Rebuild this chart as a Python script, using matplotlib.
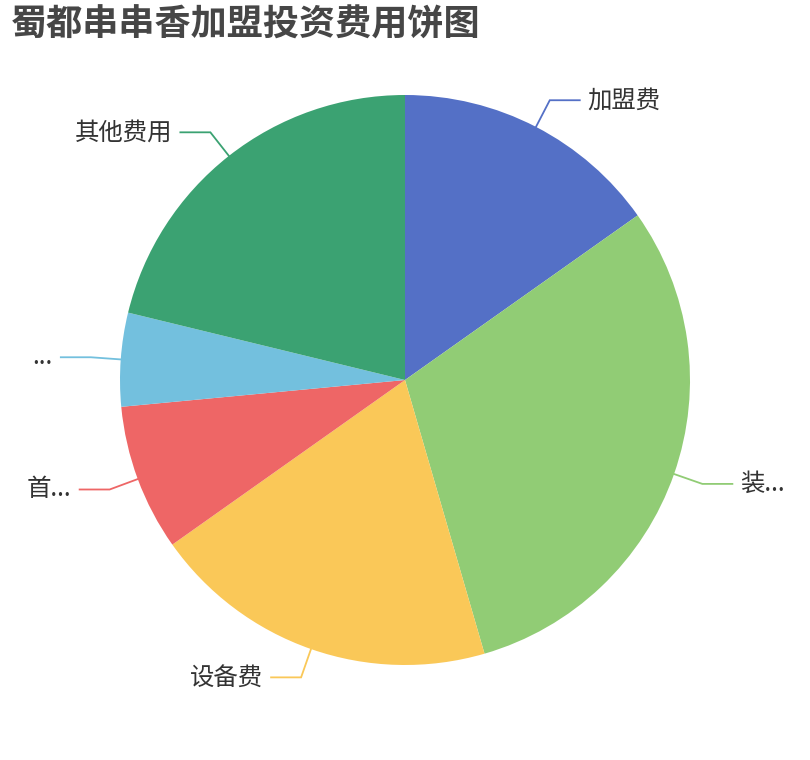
import numpy as np
import matplotlib
matplotlib.use("Agg")
import matplotlib.pyplot as plt

plt.rcParams['font.family'] = ['Noto Sans CJK SC', 'DejaVu Sans']

title = "蜀都串串香加盟投资费用饼图"
labels = ["加盟费", "装...", "设备费", "首...", "...", "其他费用"]
values = [15.2, 30.3, 19.7, 8.3, 5.3, 21.2]
colors = ["#5470c6", "#91cc75", "#fac858", "#ee6666", "#73c0de", "#3ba272"]

W, H = 810, 760
fig = plt.figure(figsize=(W / 100, H / 100), dpi=100)
ax = fig.add_axes([0, 0, 1, 1])

cx, cy, R = 405, 380, 285
wedges, _ = ax.pie(values, colors=colors, startangle=90, counterclock=False,
                   center=(cx, cy), radius=R, frame=True,
                   wedgeprops=dict(linewidth=0))
ax.set_xlim(0, W)
ax.set_ylim(0, H)
ax.set_aspect('equal')
ax.axis('off')

L1, L2, gap = 30, 30, 8
for w, lab, col in zip(wedges, labels, colors):
    mid = np.deg2rad((w.theta1 + w.theta2) / 2)
    c, s = np.cos(mid), np.sin(mid)
    p0 = (cx + R * c, cy + R * s)
    p1 = (cx + (R + L1) * c, cy + (R + L1) * s)
    d = 1 if c >= 0 else -1
    p2 = (p1[0] + d * L2, p1[1])
    ax.plot([p0[0], p1[0], p2[0]], [p0[1], p1[1], p2[1]], color=col, lw=1.3,
            solid_joinstyle='miter')
    ax.text(p2[0] + d * gap, p2[1], lab, ha='left' if d > 0 else 'right',
            va='center', fontsize=17.6, color='#333333')

fig.text(11 / W, 1 - 25 / H, title, ha='left', va='center', fontsize=26,
         fontweight='bold', color='#464646')

fig.savefig("out.png", dpi=100)
